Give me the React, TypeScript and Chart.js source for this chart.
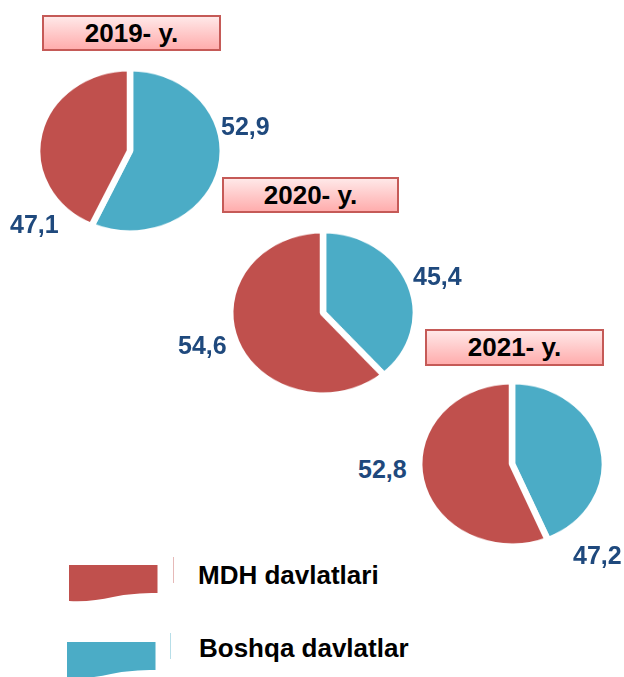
import React, { useEffect, useRef } from 'react';
import { Chart, registerables } from 'chart.js';

Chart.register(...registerables);

// ---- data ----
const years = ['2019- y.', '2020- y.', '2021- y.'];
const seriesNames = ['MDH davlatlari', 'Boshqa davlatlar'];
// values printed on the chart
const mdhValues = [47.1, 54.6, 52.8];
const boshqaValues = [52.9, 45.4, 47.2];
// slice shares as they are drawn in the picture
const mdhShare = [43.2, 61.4, 56.3];
const boshqaShare = [56.8, 38.6, 43.7];

const RED = '#C0504D';
const BLUE = '#4BACC6';
const LABEL_BLUE = '#1F497D';
const FONT = '"Liberation Sans", Arial, sans-serif';
const SY = 79.5 / 89.5;

const fmt = (v: number) => v.toFixed(1).replace('.', ',');

function Pie({ idx, cx, cy }: { idx: number; cx: number; cy: number }) {
  const ref = useRef<HTMLCanvasElement>(null);
  useEffect(() => {
    const chart = new Chart(ref.current as HTMLCanvasElement, {
      type: 'pie',
      data: {
        labels: [seriesNames[1], seriesNames[0]],
        datasets: [
          {
            data: [boshqaShare[idx], mdhShare[idx]],
            backgroundColor: [BLUE, RED],
            borderColor: '#ffffff',
            borderWidth: 6.5,
            hoverOffset: 0,
            radius: 92.8,
          } as any,
        ],
      },
      options: {
        responsive: false,
        animation: false,
        events: [],
        layout: { padding: 0 },
        plugins: { legend: { display: false }, tooltip: { enabled: false } },
      },
    });
    return () => chart.destroy();
  }, [idx]);
  return (
    <div
      style={{
        position: 'absolute',
        left: cx - 100,
        top: cy - 100 * SY,
        width: 200,
        height: 200,
        transform: `scaleY(${SY})`,
        transformOrigin: '0 0',
      }}
    >
      <canvas ref={ref} width={200} height={200} />
    </div>
  );
}

function TitleBox({ text, left, top, width, height }: { text: string; left: number; top: number; width: number; height: number }) {
  return (
    <div
      style={{
        position: 'absolute',
        left,
        top,
        width,
        height,
        boxSizing: 'border-box',
        border: '2px solid #C55A57',
        background: 'linear-gradient(to bottom, #ffe8e8 0%, #ffc4c4 60%, #ffadad 100%)',
        display: 'flex',
        alignItems: 'center',
        justifyContent: 'center',
        fontFamily: FONT,
        fontWeight: 'bold',
        fontSize: 26,
        color: '#000',
      }}
    >
      {text}
    </div>
  );
}

function Label({ text, left, cy }: { text: string; left: number; cy: number }) {
  return (
    <div
      style={{
        position: 'absolute',
        left,
        top: cy - 12,
        lineHeight: '25px',
        fontFamily: FONT,
        fontWeight: 'bold',
        fontSize: 25,
        color: LABEL_BLUE,
        whiteSpace: 'nowrap',
      }}
    >
      {text}
    </div>
  );
}

function Swatch({ color, left, top }: { color: string; left: number; top: number }) {
  return (
    <svg style={{ position: 'absolute', left, top }} width={89} height={40}>
      <path d="M0,0 H88.5 V28 C72,28 58,29 44,32 C30,35 16,37 0,36 Z" fill={color} />
    </svg>
  );
}

function LegendItem({ i, swLeft, swTop, lineX, lineTop, lineColor, textLeft, textCy }: any) {
  return (
    <>
      <Swatch color={i === 0 ? RED : BLUE} left={swLeft} top={swTop} />
      <div style={{ position: 'absolute', left: lineX, top: lineTop, width: 1, height: 26, background: lineColor }} />
      <div
        style={{
          position: 'absolute',
          left: textLeft,
          top: textCy - 13,
          lineHeight: '26px',
          fontFamily: FONT,
          fontWeight: 'bold',
          fontSize: 26,
          color: '#000',
          whiteSpace: 'nowrap',
        }}
      >
        {seriesNames[i]}
      </div>
    </>
  );
}

export default function App() {
  return (
    <div style={{ position: 'absolute', left: 0, top: 0, width: 624, height: 677, background: '#fff', overflow: 'hidden' }}>
      <TitleBox text={years[0]} left={42} top={15} width={179} height={36} />
      <TitleBox text={years[1]} left={222} top={177} width={177} height={36} />
      <TitleBox text={years[2]} left={425} top={329} width={179} height={37} />

      <Pie idx={0} cx={130} cy={150.5} />
      <Pie idx={1} cx={322.5} cy={312.5} />
      <Pie idx={2} cx={511.7} cy={463.7} />

      <Label text={fmt(boshqaValues[0])} left={221} cy={126} />
      <Label text={fmt(mdhValues[0])} left={10} cy={224} />
      <Label text={fmt(boshqaValues[1])} left={413} cy={276} />
      <Label text={fmt(mdhValues[1])} left={178} cy={345} />
      <Label text={fmt(mdhValues[2])} left={358} cy={469} />
      <Label text={fmt(boshqaValues[2])} left={573} cy={555} />

      <LegendItem i={0} swLeft={69} swTop={565} lineX={173} lineTop={557} lineColor="#E6B9B8" textLeft={198} textCy={575} />
      <LegendItem i={1} swLeft={67} swTop={642} lineX={170} lineTop={633} lineColor="#B7DEE8" textLeft={199} textCy={648} />
    </div>
  );
}
